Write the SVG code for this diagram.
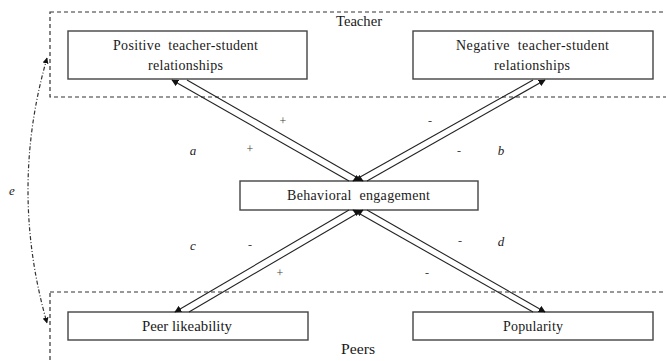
<svg xmlns="http://www.w3.org/2000/svg" width="666" height="361" viewBox="0 0 666 361">
<defs>
<marker id="ah" viewBox="0 0 10 10" refX="9" refY="5" markerWidth="7" markerHeight="7" orient="auto" markerUnits="userSpaceOnUse">
<path d="M0,0 L10,5 L0,10 z" fill="#111"/>
</marker>
<marker id="ah2" viewBox="0 0 10 10" refX="9" refY="5" markerWidth="6" markerHeight="6" orient="auto-start-reverse" markerUnits="userSpaceOnUse">
<path d="M0,0 L10,5 L0,10 z" fill="#111"/>
</marker>
</defs>
<style>
.txt{font-family:"Liberation Serif","Times New Roman",serif;font-size:14px;fill:#1a1a1a}
.lbl{font-family:"Liberation Serif","Times New Roman",serif;font-size:13px;fill:#222;font-style:italic}
.sign{font-family:"Liberation Serif","Times New Roman",serif;font-size:12px;fill:#444}
.box{fill:#fff;stroke:#444;stroke-width:1.4}
.grp{fill:none;stroke:#333;stroke-width:1.2;stroke-dasharray:4,3}
.conn{stroke:#222;stroke-width:1.1;fill:none;marker-end:url(#ah)}
.corr{stroke:#333;stroke-width:1.2;fill:none;stroke-dasharray:4,2,1,2;marker-start:url(#ah2);marker-end:url(#ah2)}
</style>
<rect width="666" height="361" fill="#fff"/>
<g id="teacher-group">
<rect class="grp" x="50" y="12" width="630" height="85"/>
<text class="txt" x="336" y="26" textLength="46" lengthAdjust="spacingAndGlyphs">Teacher</text>
</g>
<g id="peers-group">
<rect class="grp" x="50" y="292" width="630" height="90"/>
<text class="txt" x="341" y="354" textLength="34" lengthAdjust="spacingAndGlyphs">Peers</text>
</g>
<g id="positive">
<rect class="box" x="68" y="31" width="239" height="48"/>
<text class="txt" x="113" y="50" textLength="145" lengthAdjust="spacing" xml:space="preserve">Positive  teacher-student</text>
<text class="txt" x="148" y="70" textLength="75" lengthAdjust="spacing">relationships</text>
</g>
<g id="negative">
<rect class="box" x="413" y="31" width="240" height="48"/>
<text class="txt" x="456" y="50" textLength="153" lengthAdjust="spacing" xml:space="preserve">Negative  teacher-student</text>
<text class="txt" x="494" y="70" textLength="76" lengthAdjust="spacing">relationships</text>
</g>
<g id="behavioral">
<rect class="box" x="240" y="181" width="238" height="29"/>
<text class="txt" x="287" y="200" textLength="143" lengthAdjust="spacing" xml:space="preserve">Behavioral  engagement</text>
</g>
<g id="peer-likeability">
<rect class="box" x="68" y="312" width="240" height="28"/>
<text class="txt" x="142" y="331" textLength="90" lengthAdjust="spacingAndGlyphs">Peer likeability</text>
</g>
<g id="popularity">
<rect class="box" x="413" y="312" width="240" height="28"/>
<text class="txt" x="503" y="331" textLength="60" lengthAdjust="spacing">Popularity</text>
</g>
<g id="connectors">
<line class="conn" x1="349" y1="181" x2="172" y2="80"/>
<line class="conn" x1="187" y1="80" x2="363" y2="181"/>
<line class="conn" x1="533" y1="80" x2="353" y2="181"/>
<line class="conn" x1="367" y1="181" x2="545" y2="80"/>
<line class="conn" x1="349" y1="210" x2="175" y2="312"/>
<line class="conn" x1="189" y1="312" x2="363" y2="210"/>
<line class="conn" x1="533" y1="312" x2="353" y2="210"/>
<line class="conn" x1="367" y1="210" x2="545" y2="312"/>
<path class="corr" d="M47,58 Q9,190 47,323"/>
</g>
<g id="labels">
<text class="sign" x="283" y="125" text-anchor="middle">+</text>
<text class="sign" x="250" y="153" text-anchor="middle">+</text>
<text class="lbl" x="193" y="155" text-anchor="middle">a</text>
<text class="sign" x="430" y="125" text-anchor="middle">-</text>
<text class="sign" x="459" y="155" text-anchor="middle">-</text>
<text class="lbl" x="501" y="155" text-anchor="middle">b</text>
<text class="lbl" x="193" y="250" text-anchor="middle">c</text>
<text class="sign" x="250" y="249" text-anchor="middle">-</text>
<text class="sign" x="280" y="277" text-anchor="middle">+</text>
<text class="lbl" x="501" y="246" text-anchor="middle">d</text>
<text class="sign" x="460" y="245" text-anchor="middle">-</text>
<text class="sign" x="427" y="277" text-anchor="middle">-</text>
<text class="lbl" x="12" y="195" text-anchor="middle">e</text>
</g>
</svg>
